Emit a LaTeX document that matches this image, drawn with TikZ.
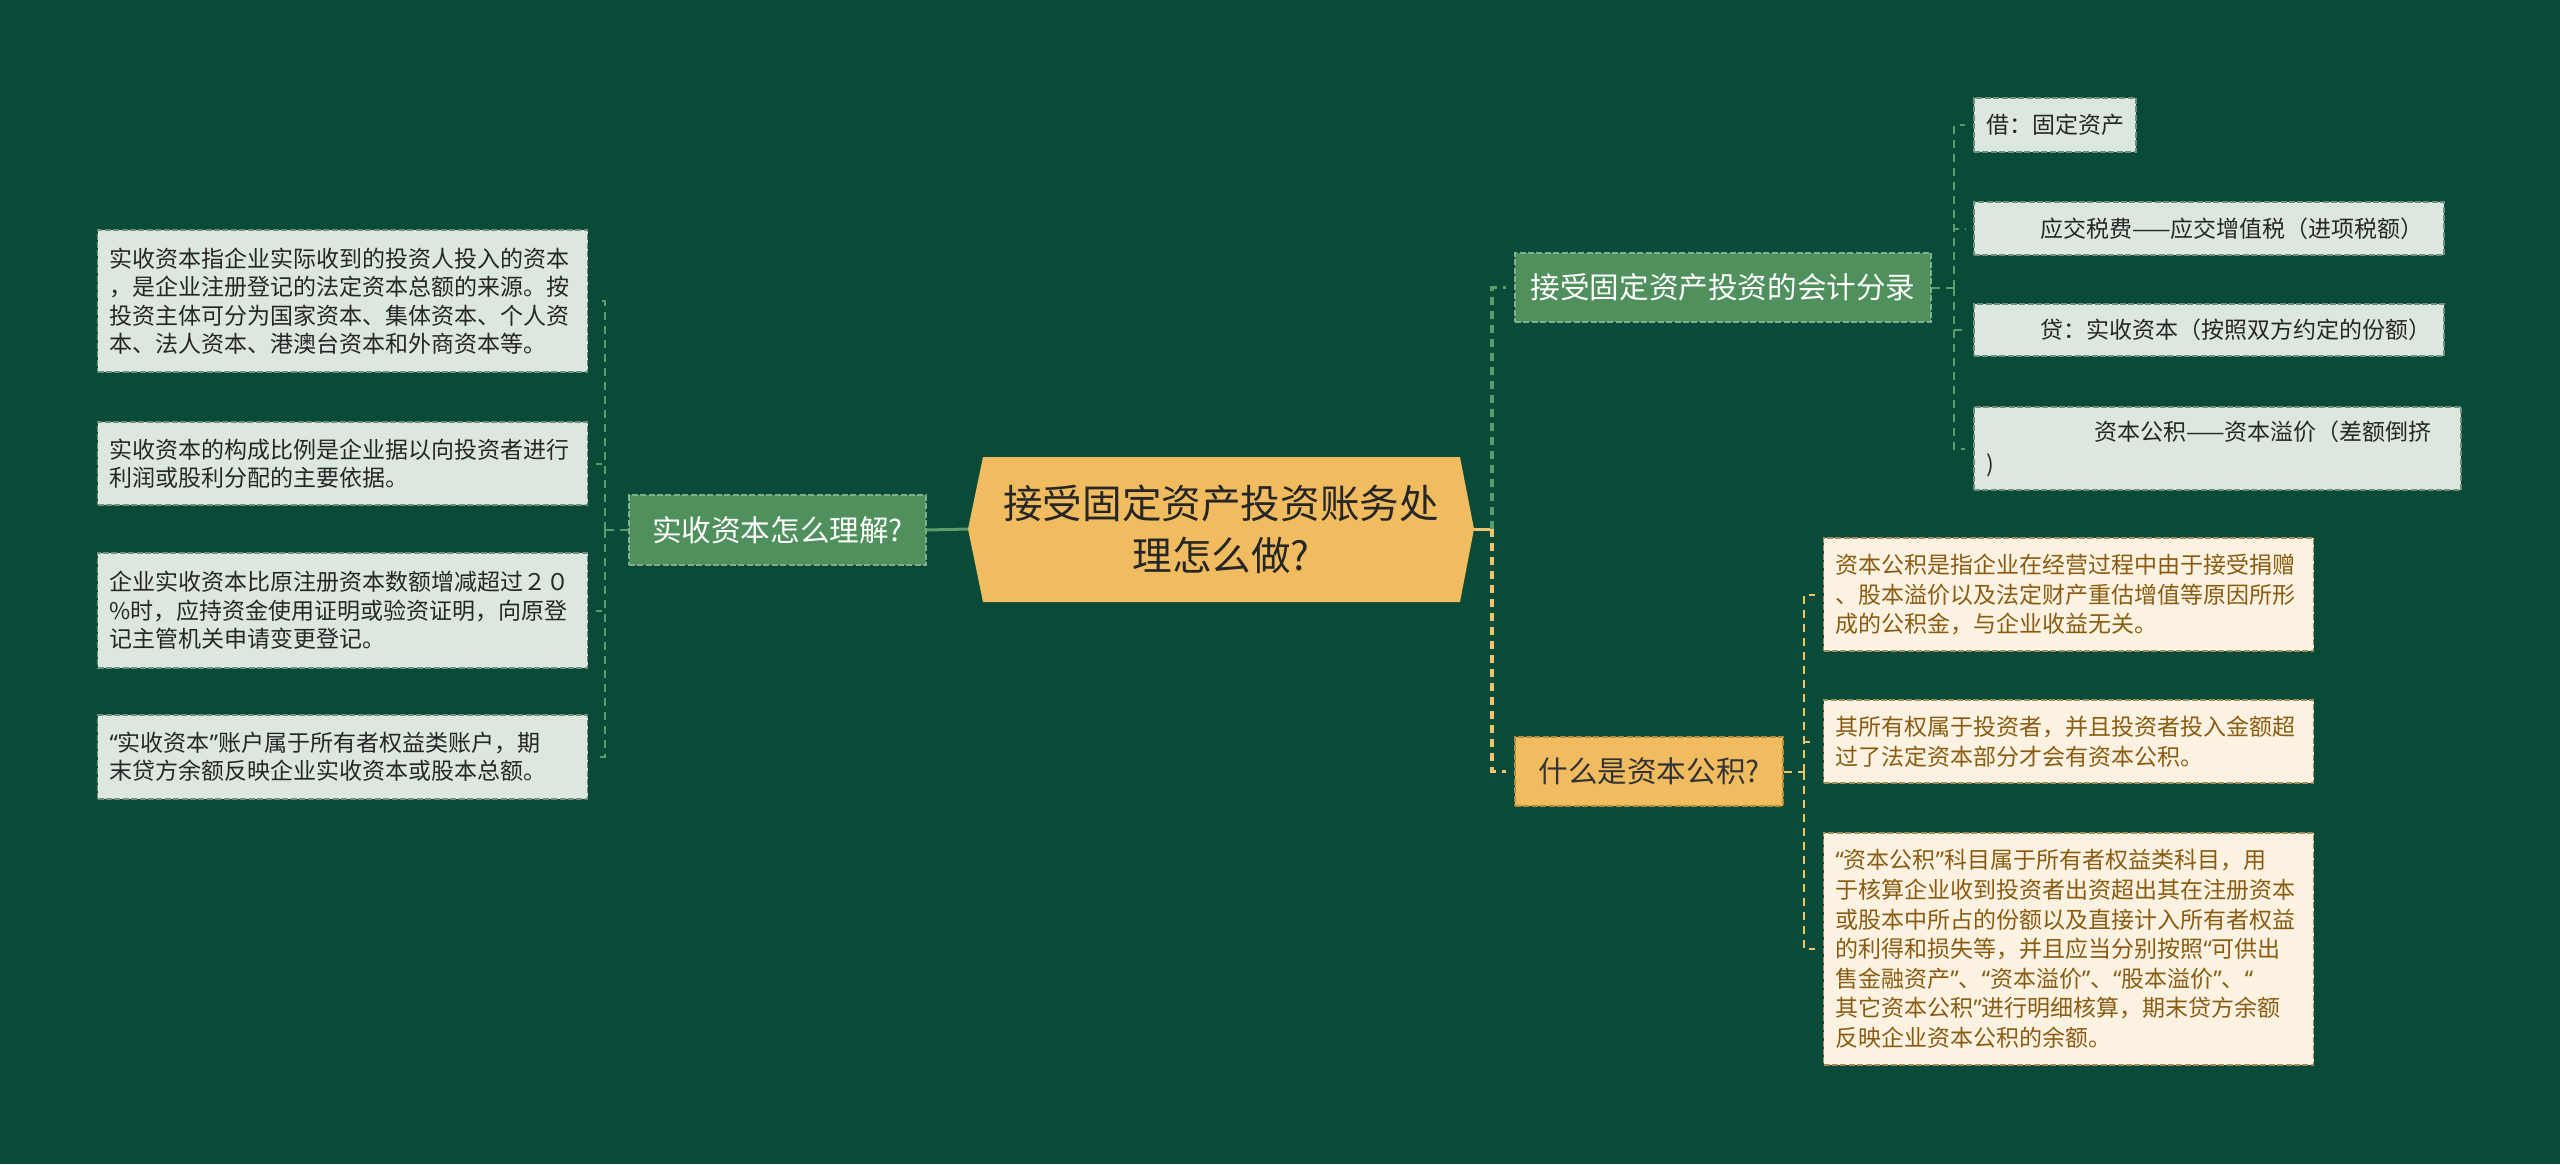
\documentclass[tikz,border=0pt]{standalone}
\usepackage{fontspec}
\setmainfont{Noto Sans CJK SC}
\newfontfamily\latinfont{Noto Sans}
\newcommand\qo{{\latinfont “}}
\newcommand\qc{{\latinfont ”}}
\usepackage{tikz}
\usetikzlibrary{positioning}

\definecolor{bgcol}{HTML}{0A4A38}
\definecolor{hexcol}{HTML}{F0BC5F}
\definecolor{grncol}{HTML}{4F905D}
\definecolor{grnedge}{HTML}{80B08A}
\definecolor{grnline}{HTML}{5C9C6A}
\definecolor{leafcol}{HTML}{DCE8DF}
\definecolor{leafedge}{HTML}{6F8E7C}
\definecolor{creamcol}{HTML}{FCF2E2}
\definecolor{creamedge}{HTML}{A58A5C}
\definecolor{browntxt}{HTML}{8A5C12}
\definecolor{yelline}{HTML}{EEC46C}
\definecolor{yeledge}{HTML}{B58A3A}

\tikzset{
  leafbox/.style={draw=leafedge,fill=leafcol,line width=0.6pt,dash pattern=on 3pt off 1.2pt,
    text=black!85,align=left,text width=233pt,inner xsep=6pt,inner ysep=3pt,
    font=\fontsize{11.5pt}{14.2pt}\selectfont},
  creambox/.style={leafbox,draw=creamedge,fill=creamcol,text=browntxt,
    font=\fontsize{11.5pt}{14.8pt}\selectfont},
  greenbranch/.style={draw=grnedge,fill=grncol,line width=0.6pt,dash pattern=on 3pt off 1.2pt,
    text=white,inner sep=0pt,font=\fontsize{14.8pt}{18pt}\selectfont},
  yellowbranch/.style={greenbranch,draw=yeledge,fill=hexcol,text=black!80},
  greenlink/.style={draw=grnline,line width=1pt,dash pattern=on 4pt off 3pt,shorten >=4pt},
  yellowlink/.style={greenlink,draw=yelline}
}

\begin{document}
\begin{tikzpicture}[x=0.5pt,y=-0.5pt]
\useasboundingbox (0,0) rectangle (2560,1164);
\fill[bgcol] (0,0) rectangle (2560,1164);

% root
\fill[hexcol] (968,529) -- (983,457) -- (1460,457) -- (1474,529) -- (1460,602) -- (983,602) -- cycle;
\node[align=center,text=black!85,font=\fontsize{19.8pt}{26pt}\selectfont] (root) at (1221,529) {接受固定资产投资账务处\\理怎么做?};
\coordinate (rootW) at (968,529);
\coordinate (rootE) at (1474,529);

%%%%%%%%%%%%%%%%%%%%%%%%%%%%%%%%% left
\node[greenbranch,minimum width=148.5pt,minimum height=35pt] (shou) at (777.5,530) {实收资本怎么理解?};
\node[leafbox,minimum height=71pt] (sh1) at (342.5,301) {实收资本指企业实际收到的投资人投入的资本\\，是企业注册登记的法定资本总额的来源。按\\投资主体可分为国家资本、集体资本、个人资\\本、法人资本、港澳台资本和外商资本等。};
\node[leafbox,minimum height=41.5pt] (sh2) at (342.5,463.5) {实收资本的构成比例是企业据以向投资者进行\\利润或股利分配的主要依据。};
\node[leafbox,minimum height=57.5pt] (sh3) at (342.5,610.5) {企业实收资本比原注册资本数额增减超过２０\\\%时，应持资金使用证明或验资证明，向原登\\记主管机关申请变更登记。};
\node[leafbox,minimum height=42pt] (sh4) at (342.5,757) {\qo 实收资本\qc 账户属于所有者权益类账户，期\\末贷方余额反映企业实收资本或股本总额。};

\draw[grnline,line width=1.5pt] (rootW) -- (shou.east);
\coordinate (lfork) at (605,530);
\draw[greenlink,shorten >=0pt] (shou.west) -- (lfork);
\foreach \n in {sh1,sh2,sh3,sh4}
  \draw[greenlink] (lfork) |- (\n.east);

%%%%%%%%%%%%%%%%%%%%%%%%%%%%%%%%% right top
\node[greenbranch,minimum width=208pt,minimum height=34.5pt] (fenlu) at (1723,287.5) {接受固定资产投资的会计分录};
\node[leafbox,text width=69pt,minimum height=27pt] (fl1) at (2055,125) {借：固定资产};
\node[leafbox,text width=223pt,minimum height=26.5pt] (fl2) at (2209,228.5) {\hspace*{27pt}应交税费——应交增值税（进项税额）};
\node[leafbox,text width=223pt,minimum height=26pt] (fl3) at (2209,330) {\hspace*{27pt}贷：实收资本（按照双方约定的份额）};
\node[leafbox,text width=231.5pt,minimum height=41.5pt,font=\fontsize{11.5pt}{16pt}\selectfont] (fl4) at (2217.5,448.5) {\hspace*{54pt}资本公积——资本溢价（差额倒挤\\)};

\coordinate (rfork) at (1492,529);
\draw[yelline,line width=1.5pt] (rootE) -- (rfork);
\draw[greenlink,line width=1.6pt] (rfork) |- (fenlu.west);
\coordinate (tfork) at (1954,287.5);
\draw[greenlink,shorten >=0pt] (fenlu.east) -- (tfork);
\foreach \n in {fl1,fl2,fl3,fl4}
  \draw[greenlink] (tfork) |- (\n.west);

%%%%%%%%%%%%%%%%%%%%%%%%%%%%%%%%% right bottom
\node[yellowbranch,minimum width=134pt,minimum height=34.5pt] (gongji) at (1649,771.5) {什么是资本公积?};
\node[creambox,minimum height=56.5pt] (gj1) at (2068.5,594.5) {资本公积是指企业在经营过程中由于接受捐赠\\、股本溢价以及法定财产重估增值等原因所形\\成的公积金，与企业收益无关。};
\node[creambox,minimum height=41.5pt] (gj2) at (2068.5,741.5) {其所有权属于投资者，并且投资者投入金额超\\过了法定资本部分才会有资本公积。};
\node[creambox,minimum height=116pt] (gj3) at (2068.5,949) {\qo 资本公积\qc 科目属于所有者权益类科目，用\\于核算企业收到投资者出资超出其在注册资本\\或股本中所占的份额以及直接计入所有者权益\\的利得和损失等，并且应当分别按照\qo 可供出\\售金融资产\qc 、\qo 资本溢价\qc 、\qo 股本溢价\qc 、\qo\\其它资本公积\qc 进行明细核算，期末贷方余额\\反映企业资本公积的余额。};

\draw[yellowlink,line width=1.6pt] (rfork) |- (gongji.west);
\coordinate (bfork) at (1804,771.5);
\draw[yellowlink,shorten >=0pt] (gongji.east) -- (bfork);
\foreach \n in {gj1,gj2,gj3}
  \draw[yellowlink] (bfork) |- (\n.west);
\end{tikzpicture}
\end{document}
